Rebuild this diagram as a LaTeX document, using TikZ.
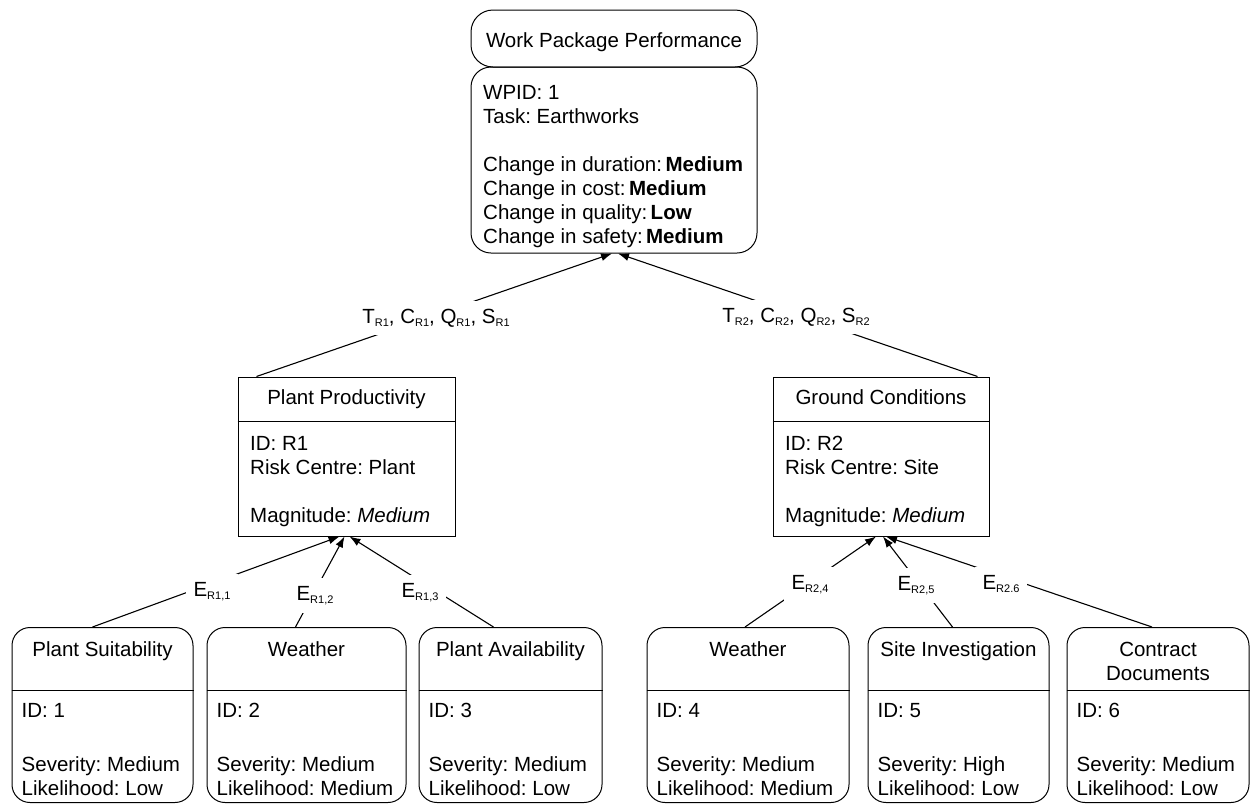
\documentclass[tikz,border=0pt]{standalone}
\usepackage{fontspec}
\setmainfont{Liberation Sans}
\usetikzlibrary{arrows.meta,calc}
\frenchspacing
\newcommand\sbs[1]{\raisebox{-3.5pt}{\fontsize{11}{12}\selectfont #1}}
\newcommand\riskbox[7]{%
  \node[rbox, minimum width=#3pt, minimum height=175pt] (#1) at (#2,715) {};
  \draw[divl] ($(#1.north west)+(0,63)$) -- ($(#1.north east)+(0,63)$);
  \node[ttl] (#1t) at (#2,656.5) {#4};
  \node[txt] (#1i) at ($(#1.north west)+(10,90.5)$) {ID: #5};
  \node[txt] (#1s) at ($(#1.north west)+(10,144.5)$) {Severity: #6};
  \node[txt] (#1l) at ($(#1.north west)+(10,168.5)$) {Likelihood: #7};
}
\begin{document}
\begin{tikzpicture}[x=1pt,y=-1pt,
  every node/.style={font=\fontsize{20.5}{24}\selectfont},
  box/.style={draw, line width=1pt, inner sep=0pt},
  rbox/.style={box, rounded corners=18pt},
  divl/.style={line width=1pt},
  txt/.style={inner sep=0pt, anchor=base west},
  ttl/.style={inner sep=0pt, anchor=base},
  arr/.style={line width=1.1pt, -{Latex[length=11pt,width=8pt]}},
  lab/.style={fill=white, inner sep=8pt, anchor=base}
]
\useasboundingbox (0,0) rectangle (1254,804);

% top: work package
\node[rbox, rounded corners=22pt, minimum width=286pt, minimum height=57pt] (wpT) at (614,38.5) {};
\node[rbox, rounded corners=20pt, minimum width=286pt, minimum height=186pt] (wpB) at (614,160) {};
\node[ttl] (wpTt) at (614,47) {Work Package Performance};
\node[txt] (wp1) at (483,99) {WPID: 1};
\node[txt] (wp2) at (483,123) {Task: Earthworks};
\node[txt] (wp3) at (483,171) {Change in duration:\,\textbf{Medium}};
\node[txt] (wp4) at (483,195) {Change in cost:\,\textbf{Medium}};
\node[txt] (wp5) at (483,219) {Change in quality:\,\textbf{Low}};
\node[txt] (wp6) at (483,243) {Change in safety:\,\textbf{Medium}};

% risks
\node[box, minimum width=217pt, minimum height=159pt] (pp) at (346.5,456.5) {};
\draw[divl] ($(pp.north west)+(0,45)$) -- ($(pp.north east)+(0,45)$);
\node[ttl] (ppt) at (346.5,404.5) {Plant Productivity};
\node[txt] (pp1) at (250,450) {ID: R1};
\node[txt] (pp2) at (250,474) {Risk Centre: Plant};
\node[txt] (pp3) at (250,522) {Magnitude: \textit{Medium}};

\node[box, minimum width=216pt, minimum height=159pt] (gc) at (881,456.5) {};
\draw[divl] ($(gc.north west)+(0,45)$) -- ($(gc.north east)+(0,45)$);
\node[ttl] (gct) at (881,404.5) {Ground Conditions};
\node[txt] (gc1) at (785,450) {ID: R2};
\node[txt] (gc2) at (785,474) {Risk Centre: Site};
\node[txt] (gc3) at (785,522) {Magnitude: \textit{Medium}};

% events
\riskbox{b1}{102.5}{181}{Plant Suitability}{1}{Medium}{Low}
\riskbox{b2}{306.5}{199}{Weather}{2}{Medium}{Medium}
\riskbox{b3}{510.5}{183}{Plant Availability}{3}{Medium}{Low}
\riskbox{b4}{748}{202}{Weather}{4}{Medium}{Medium}
\riskbox{b5}{958.5}{181}{Site Investigation}{5}{High}{Low}
\riskbox{b6}{1158}{182}{Contract}{6}{Medium}{Low}
\node[ttl] (b6t2) at (1158,680.5) {Documents};

% connectors
\draw[arr] ($(pp.north west)+(19,0)$) -- ($(wpB.south)+(-2,0)$);
\draw[arr] ($(gc.north east)+(-12,0)$) -- ($(wpB.south)+(4,0)$);
\draw[arr] ($(b1.north)+(-10,0)$) -- ($(pp.south)+(-7,0)$);
\draw[arr] ($(b2.north)+(-11,0)$) -- ($(pp.south)+(-2,0)$);
\draw[arr] ($(b3.north)+(-17,0)$) -- ($(pp.south)+(3,0)$);
\draw[arr] ($(b4.north)+(-3,0)$) -- ($(gc.south)+(-5,0)$);
\draw[arr] ($(b5.north)+(-6,0)$) -- ($(gc.south)+(2,0)$);
\draw[arr] ($(b6.north)+(-6,0)$) -- ($(gc.south)+(5,0)$);

% labels
\node[lab] (lT1) at (436,323) {T\sbs{R1}, C\sbs{R1}, Q\sbs{R1}, S\sbs{R1}};
\node[lab] (lT2) at (796,322) {T\sbs{R2}, C\sbs{R2}, Q\sbs{R2}, S\sbs{R2}};
\node[lab] (lE1) at (212,596) {E\sbs{R1,1}};
\node[lab] (lE2) at (315,600) {E\sbs{R1,2}};
\node[lab] (lE3) at (420,597) {E\sbs{R1,3}};
\node[lab] (lE4) at (810,589) {E\sbs{R2,4}};
\node[lab] (lE5) at (916,590) {E\sbs{R2,5}};
\node[lab] (lE6) at (1001,589) {E\sbs{R2.6}};
\end{tikzpicture}
\end{document}
